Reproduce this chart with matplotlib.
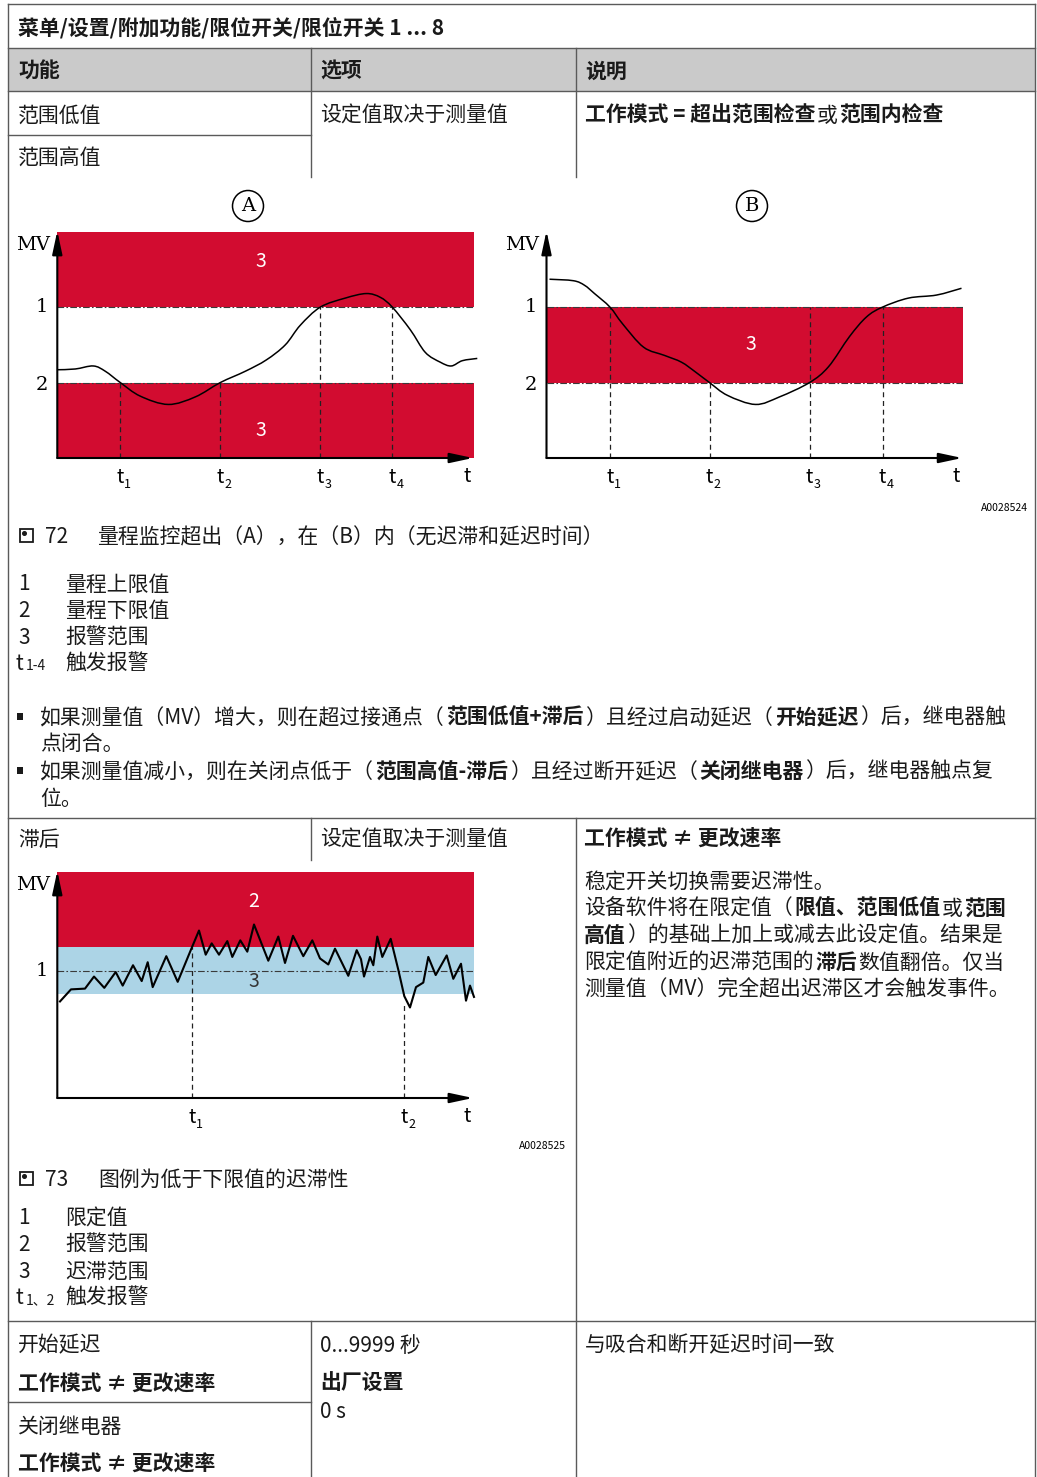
import matplotlib
matplotlib.use("Agg")
import matplotlib.pyplot as plt
from matplotlib.patches import Rectangle, Circle, PathPatch
from matplotlib.path import Path

W, H = 1037, 1477
plt.rcParams['font.family'] = ['Noto Sans CJK SC', 'DejaVu Sans']

RED = '#d20c30'
BLUE = '#acd4e6'
GRID = '#5a5a5a'
INK = '#1a1a1a'
SERIF = 'DejaVu Serif'

# ---- chart data (t axis: 1 unit = t spacing, MV axis: limits at 1 and 2) ----
XMAX = 4.167
LOW, HIGH, TOP = 1.0, 2.0, 3.0

# fig 72 A - out of range check
a_x = [0.0, 0.18, 0.36, 0.48, 0.63, 0.83, 1.11, 1.38, 1.63, 1.88, 2.09, 2.28,
       2.43, 2.63, 2.88, 3.09, 3.23, 3.35, 3.53, 3.68, 3.83, 3.94, 4.05, 4.20]
a_y = [1.17, 1.18, 1.22, 1.15, 1.00, 0.82, 0.71, 0.81, 1.00, 1.15, 1.30, 1.50,
       1.76, 2.00, 2.12, 2.18, 2.13, 2.00, 1.70, 1.40, 1.27, 1.22, 1.29, 1.32]
a_t = [0.63, 1.63, 2.63, 3.35]
a_tstop = [1.0, 1.0, 2.0, 2.0]

# fig 72 B - in range check
b_x = [0.03, 0.27, 0.38, 0.48, 0.635, 0.76, 0.97, 1.18, 1.35, 1.49, 1.63,
       1.81, 2.09, 2.33, 2.63, 2.82, 3.03, 3.20, 3.36, 3.62, 3.90, 4.15]
b_y = [2.37, 2.35, 2.29, 2.18, 2.00, 1.78, 1.47, 1.36, 1.27, 1.14, 1.00,
       0.83, 0.71, 0.81, 1.00, 1.21, 1.61, 1.87, 2.00, 2.12, 2.16, 2.25]
b_t = [0.635, 1.63, 2.63, 3.36]
b_tstop = [2.0, 1.0, 2.0, 2.0]

# fig 73 - hysteresis
h_x = [0.027, 0.137, 0.277, 0.367, 0.47, 0.584, 0.654, 0.757, 0.844, 0.904,
       0.954, 1.09, 1.204, 1.344, 1.417, 1.484, 1.544, 1.617, 1.70, 1.75,
       1.83, 1.90, 1.967, 2.11, 2.21, 2.277, 2.357, 2.46, 2.55, 2.627, 2.71,
       2.777, 2.91, 2.994, 3.037, 3.067, 3.127, 3.16, 3.20, 3.25, 3.334,
       3.41, 3.47, 3.527, 3.587, 3.66, 3.71, 3.784, 3.894, 3.96, 4.037,
       4.087, 4.127, 4.167]
h_y = [1.28, 1.44, 1.45, 1.61, 1.46, 1.67, 1.49, 1.76, 1.55, 1.80,
       1.47, 1.88, 1.54, 1.99, 2.22, 1.90, 2.05, 1.90, 2.08, 1.87,
       2.09, 1.94, 2.30, 1.82, 2.14, 1.79, 2.15, 1.88, 2.09, 1.85, 1.77,
       1.98, 1.62, 1.96, 1.84, 1.61, 1.87, 1.76, 2.14, 1.87, 2.11,
       1.70, 1.35, 1.20, 1.47, 1.53, 1.87, 1.63, 1.89, 1.58, 1.78,
       1.29, 1.49, 1.34]
h_t = [1.35, 3.47]
h_tstop = [2.0, 1.25]
HYST_LO, HYST_SET, HYST_HI = 1.385, 1.69, 2.0

fig = plt.figure(figsize=(W / 100, H / 100), dpi=100)
ax0 = fig.add_axes([0, 0, 1, 1])
ax0.set_xlim(0, W)
ax0.set_ylim(H, 0)
ax0.axis('off')
rend = fig.canvas.get_renderer()


def runs(x, yc, parts, size=15):
    # draw a line of text made of (string, bold) pieces
    for s, b in parts:
        t = ax0.text(x, yc + 7.5, s, fontsize=size, color=INK, va='baseline', ha='left',
                     fontweight='bold' if b else 'normal')
        x += t.get_window_extent(renderer=rend).width + 1.5


def txt(x, yc, s, bold=False, size=15):
    runs(x, yc, [(s, bold)], size)


def smooth_line(ax, xs, ys, lw):
    # the read points joined by bezier segments (catmull-rom style tangents)
    pts = list(zip(xs, ys))
    verts = [pts[0]]
    codes = [Path.MOVETO]
    for i in range(len(pts) - 1):
        p0 = pts[max(i - 1, 0)]
        p1, p2 = pts[i], pts[i + 1]
        p3 = pts[min(i + 2, len(pts) - 1)]
        c1 = (p1[0] + (p2[0] - p0[0]) / 6, p1[1] + (p2[1] - p0[1]) / 6)
        c2 = (p2[0] - (p3[0] - p1[0]) / 6, p2[1] - (p3[1] - p1[1]) / 6)
        verts += [c1, c2, p2]
        codes += [Path.CURVE4] * 3
    ax.add_patch(PathPatch(Path(verts, codes), fill=False, ec='black', lw=lw,
                           zorder=4, clip_on=False))


# ---- table frame ----
ax0.add_patch(Rectangle((7.5, 47.7), 1035 - 7.5, 43, color='#cacaca', lw=0))
for y, x0, x1 in [(4, 7.5, 1035), (47.7, 7.5, 1035), (90.7, 7.5, 1035), (135, 7.5, 311),
                  (818, 7.5, 1035), (1321, 7.5, 1035), (1401.5, 7.5, 311)]:
    ax0.plot([x0, x1], [y, y], color=GRID, lw=1.0)
for x, y0, y1 in [(7.5, 4, H), (1035, 4, H), (311, 47.7, 177), (575.5, 47.7, 177),
                  (311, 818, 860), (575.5, 818, H), (311, 1321, H)]:
    ax0.plot([x, x], [y0, y1], color=GRID, lw=1.0)

txt(18, 26.7, "菜单/设置/附加功能/限位开关/限位开关 1 ... 8", True)
txt(18, 70, "功能", True)
txt(320, 70, "选项", True)
txt(585, 70, "说明", True)
txt(18, 114, "范围低值")
txt(18, 157.5, "范围高值")
txt(320, 114, "设定值取决于测量值")
runs(585, 114, [("工作模式 = 超出范围检查", True), ("或", False), ("范围内检查", True)])

# ---- circled letters ----
for cx, letter in [(248, "A"), (752, "B")]:
    ax0.add_patch(Circle((cx, 206), 15.5, fill=False, ec='black', lw=1.1))
    ax0.text(cx, 206, letter, ha='center', va='center', fontsize=14, family=SERIF)


def chart_axes(left, top):
    ax = fig.add_axes([left / W, 1 - (top + 226.3) / H, 416.7 / W, 226.3 / H])
    ax.set_xlim(0, XMAX)
    ax.set_ylim(0, TOP)
    ax.axis('off')
    return ax


def frame(ax, ylabels, tpos, tsubs, tstops):
    kw = dict(arrowstyle='-|>,head_length=1.4,head_width=0.3', color='black', lw=1.5,
              shrinkA=0, shrinkB=0, mutation_scale=10)
    ax.annotate('', xy=(0, TOP + 0.01), xytext=(0, 0), arrowprops=kw, annotation_clip=False)
    ax.annotate('', xy=(XMAX - 0.01, 0), xytext=(0, 0), arrowprops=kw, annotation_clip=False)
    ax.text(-0.075, 2.82, "MV", ha='right', va='center', fontsize=14, family=SERIF, clip_on=False)
    for lab, y in ylabels:
        ax.text(-0.155, y, lab, ha='center', va='center', fontsize=14, family=SERIF, clip_on=False)
    for tx, sub, stop in zip(tpos, tsubs, tstops):
        ax.plot([tx, tx], [0, stop], color='#222222', lw=0.9, ls=(0, (4, 3)), zorder=2)
        ax.text(tx, -0.26, "t", ha='center', va='center', fontsize=14, clip_on=False)
        ax.text(tx + 0.04, -0.35, sub, ha='left', va='center', fontsize=9, clip_on=False)
    ax.text(4.095, -0.25, "t", ha='center', va='center', fontsize=14, clip_on=False)


def limit_line(ax, y):
    ax.plot([0, XMAX], [y, y], color='#3a3a3a', lw=0.8, ls=(0, (6, 2, 1.5, 2)), zorder=2)


# chart A
axA = chart_axes(57.3, 231.7)
axA.fill_between([0, XMAX], HIGH, TOP, color=RED, lw=0, zorder=1)
axA.fill_between([0, XMAX], 0, LOW, color=RED, lw=0, zorder=1)
limit_line(axA, HIGH)
limit_line(axA, LOW)
smooth_line(axA, a_x, a_y, 1.1)
axA.text(2.04, 2.60, "3", color='white', ha='center', va='center', fontsize=14)
axA.text(2.04, 0.37, "3", color='white', ha='center', va='center', fontsize=14)
frame(axA, [("1", HIGH), ("2", 0.97)], a_t, ["1", "2", "3", "4"], a_tstop)

# chart B
axB = chart_axes(546.5, 231.7)
axB.fill_between([0, XMAX], LOW, HIGH, color=RED, lw=0, zorder=1)
limit_line(axB, HIGH)
limit_line(axB, LOW)
smooth_line(axB, b_x, b_y, 1.1)
axB.text(2.045, 1.50, "3", color='white', ha='center', va='center', fontsize=14)
frame(axB, [("1", HIGH), ("2", 0.97)], b_t, ["1", "2", "3", "4"], b_tstop)

ax0.text(1028, 508.3, "A0028524", ha='right', va='center', fontsize=7.5)

# caption 72
for cy in [535.5, 1178.5]:
    ax0.add_patch(Rectangle((20, cy - 7), 13, 13, fill=False, ec=INK, lw=1.3))
    ax0.add_patch(Circle((24.5, cy - 2), 1.8, color=INK))
txt(45, 535.5, "72")
txt(97, 535.5, "量程监控超出（A），在（B）内（无迟滞和延迟时间）")
for y, num, lab in [(583, "1", "量程上限值"), (609.5, "2", "量程下限值"), (636, "3", "报警范围")]:
    txt(18, y, num)
    txt(65, y, lab)
txt(16, 662.5, "t")
ax0.text(26, 670, "1-4", fontsize=10, color=INK, va='baseline', ha='left')
txt(65, 662.5, "触发报警")

# bullets
for y in [716, 770.5]:
    ax0.add_patch(Rectangle((17, y - 3.5), 6, 7, color=INK, lw=0))
runs(40, 716.5, [("如果测量值（MV）增大，则在超过接通点（", False), ("范围低值+滞后", True),
                 ("）且经过启动延迟（", False), ("开始延迟", True), ("）后，继电器触", False)])
txt(40, 742.5, "点闭合。")
runs(40, 770.5, [("如果测量值减小，则在关闭点低于（", False), ("范围高值-滞后", True),
                 ("）且经过断开延迟（", False), ("关闭继电器", True), ("）后，继电器触点复", False)])
txt(40, 797.5, "位。")

# ---- hysteresis row ----
txt(18, 838, "滞后")
txt(320, 838, "设定值取决于测量值")
txt(584, 837.5, "工作模式 ≠ 更改速率", True)
txt(584, 881, "稳定开关切换需要迟滞性。")
runs(584, 907.5, [("设备软件将在限定值（", False), ("限值、范围低值", True), ("或", False), ("范围", True)])
runs(584, 934, [("高值", True), ("）的基础上加上或减去此设定值。结果是", False)])
runs(584, 961, [("限定值附近的迟滞范围的", False), ("滞后", True), ("数值翻倍。仅当", False)])
txt(584, 987.7, "测量值（MV）完全超出迟滞区才会触发事件。")

axH = chart_axes(57.3, 871.7)
axH.fill_between([0, XMAX], HYST_HI, TOP, color=RED, lw=0, zorder=1)
axH.fill_between([0, XMAX], HYST_LO, HYST_HI, color=BLUE, lw=0, zorder=1)
limit_line(axH, HYST_SET)
axH.plot(h_x, h_y, color='black', lw=1.5, zorder=4, clip_on=False)
axH.text(1.965, 2.61, "2", color='white', ha='center', va='center', fontsize=14)
axH.text(1.965, 1.55, "3", color='#333333', ha='center', va='center', fontsize=14)
frame(axH, [("1", HYST_SET)], h_t, ["1", "2"], h_tstop)

ax0.text(566, 1146, "A0028525", ha='right', va='center', fontsize=7.5)

txt(45, 1178.5, "73")
txt(98, 1178.5, "图例为低于下限值的迟滞性")
for y, num, lab in [(1216.7, "1", "限定值"), (1243.3, "2", "报警范围"), (1270, "3", "迟滞范围")]:
    txt(18, y, num)
    txt(65, y, lab)
txt(16, 1296.7, "t")
ax0.text(26, 1304, "1、2", fontsize=10, color=INK, va='baseline', ha='left')
txt(65, 1296.7, "触发报警")

# ---- delay rows ----
txt(18, 1344, "开始延迟")
txt(18, 1382, "工作模式 ≠ 更改速率", True)
txt(18, 1425, "关闭继电器")
txt(18, 1462, "工作模式 ≠ 更改速率", True)
txt(320, 1344, "0...9999 秒")
txt(320, 1382, "出厂设置", True)
txt(320, 1410, "0 s")
txt(585, 1344, "与吸合和断开延迟时间一致")

fig.savefig("out.png", dpi=100)
